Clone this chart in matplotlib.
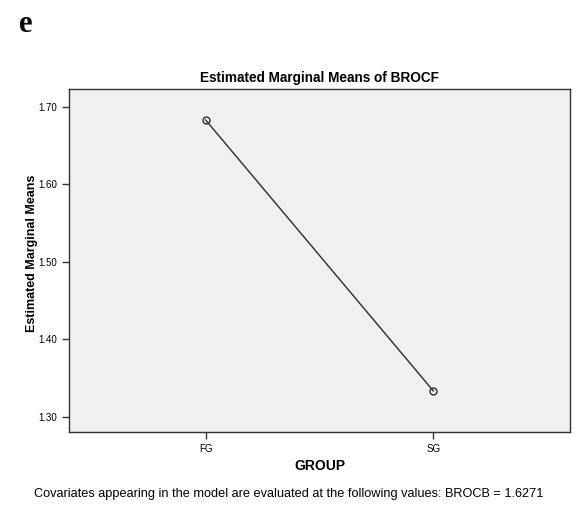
import matplotlib
matplotlib.use("Agg")
import matplotlib.pyplot as plt

groups = ["FG", "SG"]
means = [1.683, 1.333]
yticks = [1.30, 1.40, 1.50, 1.60, 1.70]

plt.rcParams['font.family'] = ['Liberation Sans', 'DejaVu Sans']
fig = plt.figure(figsize=(5.77, 5.08), dpi=100)
ax = fig.add_axes([69/577, 1-432/508, (570-69)/577, (432-89)/508])
ax.set_facecolor('#f0f0f0')
x = list(range(len(groups)))
ax.plot(x, means, color='#2b2b2b', lw=1.0, marker='o', ms=5, mfc='none', mec='#2b2b2b', mew=1.0)
ax.set_xlim(-0.6, 1.6)
ax.set_ylim(1.28, 1.723)
ax.set_yticks(yticks)
ax.set_yticklabels([f"{v:.2f}" for v in yticks], fontsize=7)
ax.set_xticks(x)
ax.set_xticklabels(groups, fontsize=7)
ax.tick_params(direction='out', length=5, width=1, color='#333333')
for s in ax.spines.values():
    s.set_color('#333333')
    s.set_linewidth(1.0)
ax.set_title("Estimated Marginal Means of BROCF", fontsize=9.8, fontweight='bold', pad=5)
ax.set_ylabel("Estimated Marginal Means", fontsize=9, fontweight='bold', labelpad=3)
ax.yaxis.set_label_coords(-0.062, 0.52)
ax.set_xlabel("GROUP", fontsize=10, fontweight='bold', labelpad=4)
fig.text(0.5, 1-494/508, "Covariates appearing in the model are evaluated at the following values: BROCB = 1.6271",
         ha='center', va='center', fontsize=9.2)
fig.text(19/577, 1-24/508, "e", fontsize=22, fontweight='bold', family=['Liberation Serif', 'DejaVu Serif'],
         ha='left', va='center')
fig.savefig("out.png", dpi=100)
